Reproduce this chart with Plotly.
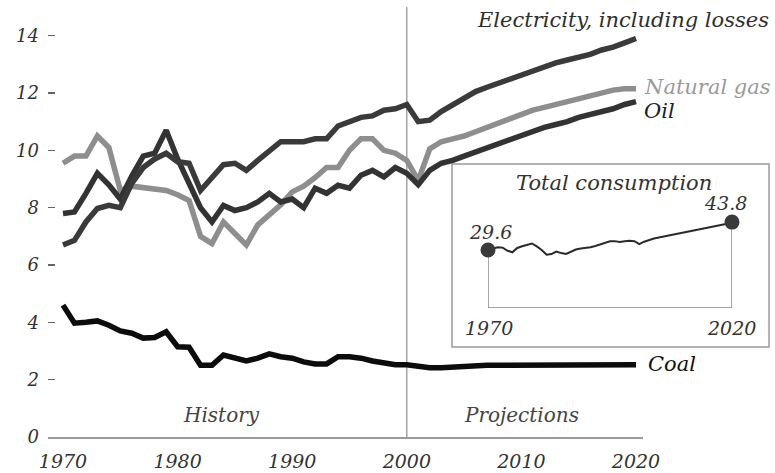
import plotly.graph_objects as go

years = list(range(1970, 2021))

electricity = [6.7, 6.86, 7.5, 7.97, 8.08, 8.0, 8.85, 9.4, 9.7, 9.9,
               9.6, 9.55, 8.6, 9.05, 9.5, 9.55, 9.3, 9.65, 10.0, 10.3,
               10.3, 10.3, 10.4, 10.4, 10.85, 11.0, 11.15, 11.2, 11.4, 11.45,
               11.6, 11.0, 11.05, 11.35, 11.6, 11.85, 12.05, 12.2, 12.35, 12.5,
               12.6, 12.8, 12.95, 13.05, 13.15, 13.25, 13.35, 13.5, 13.6, 13.75,
               13.9]

oil = [7.8, 7.85, 8.5, 9.2, 8.8, 8.3, 9.1, 9.8, 9.9, 10.7,
       9.7, 8.8, 8.0, 7.5, 8.08, 7.9, 8.0, 8.2, 8.5, 8.2,
       8.3, 8.0, 8.68, 8.5, 8.78, 8.68, 9.13, 9.3, 9.07, 9.4,
       9.2, 8.8, 9.3, 9.55, 9.65, 9.8, 9.95, 10.1, 10.25, 10.4,
       10.5, 10.65, 10.8, 10.9, 11.0, 11.15, 11.25, 11.35, 11.45, 11.6,
       11.7]

natural_gas = [9.55, 9.8, 9.8, 10.5, 10.1, 8.6, 8.75, 8.7, 8.65, 8.6,
               8.45, 8.25, 7.0, 6.75, 7.5, 7.1, 6.7, 7.4, 7.75, 8.1,
               8.55, 8.75, 9.05, 9.4, 9.4, 10.0, 10.4, 10.4, 10.0, 9.9,
               9.65, 8.95, 10.05, 10.3, 10.4, 10.5, 10.65, 10.8, 10.95, 11.1,
               11.3, 11.4, 11.5, 11.6, 11.7, 11.8, 11.9, 12.0, 12.1, 12.15,
               12.15]

coal = [4.6, 3.97, 4.0, 4.05, 3.9, 3.7, 3.62, 3.45, 3.47, 3.67,
        3.15, 3.13, 2.5, 2.5, 2.86, 2.75, 2.65, 2.75, 2.9, 2.8,
        2.75, 2.62, 2.55, 2.55, 2.8, 2.8, 2.75, 2.65, 2.58, 2.52,
        2.52, 2.45, 2.42, 2.42, 2.45, 2.47, 2.48, 2.5, 2.5, 2.5,
        2.5, 2.5, 2.5, 2.5, 2.5, 2.5, 2.51, 2.51, 2.52, 2.52,
        2.52]

total = [29.6, 30.4, 31.0, 30.8, 29.2, 28.4, 30.6, 31.5, 32.4, 32.9,
         31.4, 29.6, 27.2, 27.5, 28.8, 28.0, 27.6, 28.9, 29.8, 30.3,
         30.6, 31.0, 31.6, 32.4, 33.3, 34.0, 34.1, 33.7, 34.0, 34.3,
         34.1, 32.6, 33.8, 34.8, 35.4, 35.9, 36.4, 36.9, 37.5, 38.0,
         38.6, 39.0, 39.5, 39.9, 40.4, 40.9, 41.4, 41.9, 42.4, 43.0,
         43.8]

y_ticks = [0, 2, 4, 6, 8, 10, 12, 14]
x_ticks = [1970, 1980, 1990, 2000, 2010, 2020]

FONT = "DejaVu Serif"
W, H = 775, 473
L, R, T, B = 48, 5, 7, 36
PW = W - L - R
PH = H - T - B


def px(x):
    return (x - L) / PW


def py(y):
    return (H - B - y) / PH


fig = go.Figure()

series = [
    (natural_gas, "#8e8e8e", "Natural gas"),
    (oil, "#333333", "Oil"),
    (electricity, "#3a3a3a", "Electricity"),
    (coal, "#0c0c0c", "Coal"),
]
for vals, col, name in series:
    fig.add_trace(go.Scatter(x=years, y=vals, mode="lines", name=name,
                             line=dict(color=col, width=5.5),
                             xaxis="x", yaxis="y", hoverinfo="skip"))

# inset
fig.add_trace(go.Scatter(x=years, y=total, mode="lines",
                         line=dict(color="#2a2a2a", width=2),
                         xaxis="x2", yaxis="y2", hoverinfo="skip",
                         cliponaxis=False))
fig.add_trace(go.Scatter(x=[years[0], years[-1]], y=[total[0], total[-1]],
                         mode="markers",
                         marker=dict(color="#3a3a3a", size=15),
                         xaxis="x2", yaxis="y2", hoverinfo="skip",
                         cliponaxis=False))

main_right = (643 - L) / PW

fig.update_layout(
    width=W, height=H,
    margin=dict(l=L, r=R, t=T, b=B, autoexpand=False),
    paper_bgcolor="white", plot_bgcolor="white",
    showlegend=False,
    font=dict(family=FONT, color="#333333"),
    xaxis=dict(domain=[0, main_right], range=[1968.69, 2020.61],
               tickvals=x_ticks, ticktext=[str(v) for v in x_ticks],
               showgrid=False, zeroline=False, showline=True,
               linecolor="#9a9a9a", linewidth=1.5, ticks="",
               tickfont=dict(family=FONT, size=19, style="italic", color="#333333"),
               ticklabelstandoff=7, automargin=False),
    yaxis=dict(domain=[0, 1], range=[0, 15],
               tickvals=y_ticks, ticktext=[str(v) for v in y_ticks],
               showgrid=False, zeroline=False, showline=False,
               ticks="inside", ticklen=7, tickwidth=1.2, tickcolor="#666666",
               tickfont=dict(family=FONT, size=18, style="italic", color="#333333"),
               ticklabelstandoff=8, automargin=False),
    xaxis2=dict(domain=[px(488), px(732)], range=[1970, 2020], anchor="y2",
                visible=False),
    yaxis2=dict(domain=[py(308), py(217.8)], range=[0, 46], anchor="x2",
                visible=False),
)

shapes = [
    dict(type="line", xref="x", yref="paper", x0=2000, x1=2000, y0=0, y1=1,
         line=dict(color="#8a8a8a", width=1.2), layer="below"),
    dict(type="rect", xref="paper", yref="paper",
         x0=px(452), x1=px(769), y0=py(347), y1=py(164),
         line=dict(color="#999999", width=1.5), fillcolor="white", layer="below"),
    dict(type="line", xref="x2", yref="y2", x0=1970, x1=2020, y0=0, y1=0,
         line=dict(color="#888888", width=1.5), layer="below"),
    dict(type="line", xref="x2", yref="y2", x0=1970, x1=1970, y0=0, y1=total[0],
         line=dict(color="#888888", width=1.5), layer="below"),
    dict(type="line", xref="x2", yref="y2", x0=2020, x1=2020, y0=0, y1=total[-1],
         line=dict(color="#888888", width=1.5), layer="below"),
]
fig.update_layout(shapes=shapes)


def ann(text, x, y, xanchor="center", size=19, color="#333333"):
    fig.add_annotation(text=text, xref="paper", yref="paper",
                       x=px(x), y=py(y), xanchor=xanchor, yanchor="middle",
                       showarrow=False,
                       font=dict(family=FONT, size=size, style="italic", color=color))


ann("Electricity, including losses", 771, 20, "right", 21, "#2e2e2e")
ann("Natural gas", 642, 87, "left", 21, "#9a9a9a")
ann("Oil", 642, 111, "left", 21, "#1e1e1e")
ann("Coal", 646, 364, "left", 21, "#111111")
ann("History", 221, 415, "center", 20, "#444444")
ann("Projections", 521, 415, "center", 20, "#444444")
ann("Total consumption", 614, 183, "center", 21, "#333333")
ann(f"{total[0]}", 490, 232, "center", 19, "#333333")
ann(f"{total[-1]}", 725, 203, "center", 19, "#333333")
ann(str(years[0]), 489, 328, "center", 19, "#333333")
ann(str(years[-1]), 731, 328, "center", 19, "#333333")

fig.write_html("out.html",
               config={"displayModeBar": False, "staticPlot": True},
               post_script="document.body.style.margin='0';document.body.style.overflow='hidden';")
